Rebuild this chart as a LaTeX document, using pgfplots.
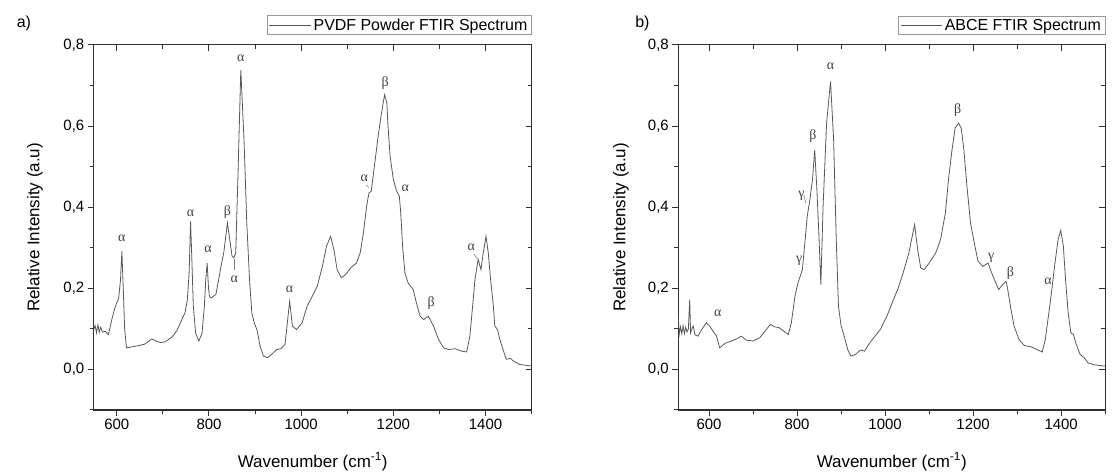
\documentclass[border=0pt]{standalone}
\usepackage{pgfplots}
\pgfplotsset{compat=1.18}
\usepackage{fontspec}
\setmainfont{Liberation Sans}
\newfontfamily\greek{Liberation Serif}
\definecolor{curve}{HTML}{585858}
\definecolor{frame}{HTML}{303030}

\tikzset{ann/.style={font=\greek\fontsize{14}{16}\selectfont, text=black!75, inner sep=1pt}}

\pgfplotsset{
  ftir/.style={
    scale only axis, anchor=south west,
    height=366pt, ymin=-0.1, ymax=0.8, xmax=1500,
    axis line style={frame, line width=1.2pt},
    ytick={0,0.2,0.4,0.6,0.8}, minor ytick={-0.1,0.1,0.3,0.5,0.7},
    xtick={600,800,1000,1200,1400}, minor xtick={500,700,900,1100,1300,1500},
    major tick length=6pt, minor tick length=4pt,
    every tick/.style={frame, line width=1pt},
  },
  ftirmain/.style={
    ftir,
    tick align=outside, xtick pos=left, ytick pos=left,
    /pgf/number format/assume math mode=true,
    ticklabel style={font=\fontsize{15}{17}\selectfont},
    yticklabel style={/pgf/number format/.cd, use comma, fixed, fixed zerofill, precision=1},
    xticklabel style={/pgf/number format/.cd, 1000 sep={}},
    label style={font=\fontsize{17}{20}\selectfont},
    xlabel={Wavenumber (cm\textsuperscript{-1})},
    ylabel={Relative Intensity (a.u)},
    xlabel style={at={(axis description cs:0.5,-0.142)}, anchor=center},
    ylabel style={at={(axis description cs:-0.134,0.5)}, anchor=center},
    legend cell align=left,
    legend style={at={(1,1)}, anchor=south east, yshift=10pt, draw=gray!80, line width=0.6pt,
      font=\fontsize{16}{18}\selectfont, inner xsep=2pt, inner ysep=1pt},
    legend image code/.code={\path (0pt,0pt) -- (42pt,0pt);\draw[curve, line width=0.6pt] (4pt,0pt) -- (40pt,0pt);},
  },
  ftirmirror/.style={
    ftir,
    tick align=inside, xtick pos=right, ytick pos=right,
    xticklabels={}, yticklabels={},
  },
}

\pgfplotstableread{
x y
550 0.098
553 0.108
556 0.090
559 0.110
562 0.092
565 0.104
569 0.092
575 0.094
582 0.086
590 0.127
597 0.156
604 0.175
608 0.220
611 0.291
614 0.200
617 0.100
621 0.053
630 0.055
645 0.058
660 0.062
670 0.070
676 0.075
685 0.070
695 0.066
705 0.068
720 0.080
730 0.095
740 0.120
748 0.140
753 0.170
757 0.240
760 0.365
762 0.300
766 0.156
771 0.090
778 0.070
785 0.090
790 0.156
793 0.221
796 0.262
799 0.200
801 0.180
805 0.176
815 0.185
821 0.221
826 0.254
832 0.287
840 0.361
846 0.312
850 0.279
854 0.275
858 0.287
863 0.484
869 0.738
876 0.566
882 0.361
888 0.221
893 0.139
898 0.115
904 0.098
911 0.057
918 0.033
927 0.029
936 0.037
947 0.049
956 0.051
965 0.062
970 0.115
975 0.168
981 0.107
990 0.098
1002 0.115
1013 0.156
1024 0.180
1035 0.205
1046 0.254
1055 0.304
1064 0.328
1071 0.295
1078 0.246
1087 0.226
1097 0.234
1107 0.250
1120 0.262
1128 0.287
1135 0.336
1142 0.402
1147 0.435
1152 0.439
1157 0.484
1166 0.566
1173 0.623
1181 0.677
1186 0.656
1188 0.607
1193 0.525
1200 0.468
1207 0.440
1213 0.427
1216 0.386
1220 0.304
1225 0.238
1232 0.213
1243 0.197
1250 0.164
1258 0.131
1266 0.123
1276 0.131
1287 0.107
1298 0.074
1309 0.053
1320 0.049
1334 0.051
1348 0.045
1359 0.043
1366 0.082
1372 0.156
1377 0.221
1384 0.271
1390 0.246
1395 0.287
1401 0.328
1406 0.287
1411 0.221
1417 0.156
1420 0.107
1426 0.098
1431 0.074
1438 0.049
1445 0.025
1454 0.027
1460 0.021
1474 0.012
1489 0.010
1500 0.008
}\pvdf

\pgfplotstableread{
x y
530 0.135
532 0.085
535 0.105
538 0.088
541 0.107
544 0.088
547 0.104
550 0.092
553 0.100
556 0.172
558 0.090
561 0.100
564 0.107
568 0.085
575 0.082
583 0.098
594 0.115
602 0.106
609 0.094
617 0.082
624 0.053
636 0.064
651 0.070
664 0.076
673 0.082
685 0.072
700 0.070
715 0.078
730 0.098
739 0.111
749 0.105
759 0.103
770 0.094
780 0.086
787 0.115
795 0.180
802 0.213
812 0.246
817 0.304
823 0.377
829 0.418
835 0.468
840 0.541
845 0.443
850 0.320
854 0.209
859 0.400
867 0.607
876 0.710
883 0.566
889 0.320
894 0.156
900 0.107
907 0.082
915 0.049
922 0.033
933 0.037
944 0.048
953 0.045
963 0.062
974 0.078
989 0.098
1004 0.131
1019 0.172
1030 0.201
1041 0.238
1054 0.287
1067 0.357
1074 0.295
1081 0.250
1089 0.246
1100 0.262
1115 0.287
1126 0.320
1137 0.386
1144 0.468
1152 0.541
1159 0.595
1167 0.607
1173 0.595
1179 0.541
1186 0.451
1194 0.361
1204 0.304
1211 0.267
1222 0.254
1234 0.262
1245 0.230
1258 0.197
1267 0.209
1275 0.217
1278 0.201
1286 0.148
1293 0.107
1304 0.074
1316 0.059
1331 0.056
1345 0.049
1357 0.043
1364 0.074
1372 0.139
1378 0.189
1385 0.254
1393 0.320
1399 0.343
1405 0.304
1410 0.221
1416 0.139
1422 0.090
1428 0.086
1433 0.066
1443 0.037
1452 0.029
1461 0.016
1476 0.011
1500 0.008
}\abce

\begin{document}
\begin{tikzpicture}[x=1pt,y=1pt]
\path (0,0) rectangle (1112,475);

% ---------- panel a ----------
\begin{axis}[ftirmirror, at={(94pt,64pt)}, width=439pt, xmin=550]
\end{axis}
\begin{axis}[ftirmain, at={(94pt,64pt)}, width=439pt, xmin=550]
\addplot[curve, line width=0.8pt] table {\pvdf};
\addlegendentry{PVDF Powder FTIR Spectrum}
\node[ann] at (axis cs:611,0.324) {α};
\node[ann] at (axis cs:760,0.386) {α};
\node[ann] at (axis cs:798,0.297) {α};
\node[ann] at (axis cs:840,0.387) {β};
\node[ann] at (axis cs:855,0.222) {α};
\draw[gray, line width=0.6pt] (axis cs:855,0.272) -- (axis cs:855,0.245);
\node[ann] at (axis cs:869,0.767) {α};
\node[ann] at (axis cs:975,0.197) {α};
\node[ann] at (axis cs:1137,0.472) {α};
\draw[gray, line width=0.6pt] (axis cs:1141,0.455) -- (axis cs:1147,0.448);
\node[ann] at (axis cs:1182,0.705) {β};
\node[ann] at (axis cs:1226,0.447) {α};
\node[ann] at (axis cs:1282,0.164) {β};
\node[ann] at (axis cs:1369,0.300) {α};
\draw[gray, line width=0.6pt] (axis cs:1374,0.285) -- (axis cs:1386,0.268);
\end{axis}
\node[font=\fontsize{16}{18}\selectfont, anchor=center] at (24,452) {a)};

% ---------- panel b ----------
\begin{axis}[ftirmirror, at={(680pt,64pt)}, width=428pt, xmin=530]
\end{axis}
\begin{axis}[ftirmain, at={(680pt,64pt)}, width=428pt, xmin=530]
\addplot[curve, line width=0.8pt] table {\abce};
\addlegendentry{ABCE FTIR Spectrum}
\node[ann] at (axis cs:620,0.139) {α};
\node[ann] at (axis cs:805,0.268) {γ};
\node[ann] at (axis cs:810,0.428) {γ};
\draw[gray, line width=0.6pt] (axis cs:815,0.43) -- (axis cs:820,0.41);
\node[ann] at (axis cs:836,0.574) {β};
\node[ann] at (axis cs:876,0.748) {α};
\node[ann] at (axis cs:1165,0.640) {β};
\node[ann] at (axis cs:1241,0.275) {γ};
\node[ann] at (axis cs:1285,0.238) {β};
\node[ann] at (axis cs:1370,0.217) {α};
\end{axis}
\node[font=\fontsize{16}{18}\selectfont, anchor=center] at (644,452) {b)};
\end{tikzpicture}
\end{document}
